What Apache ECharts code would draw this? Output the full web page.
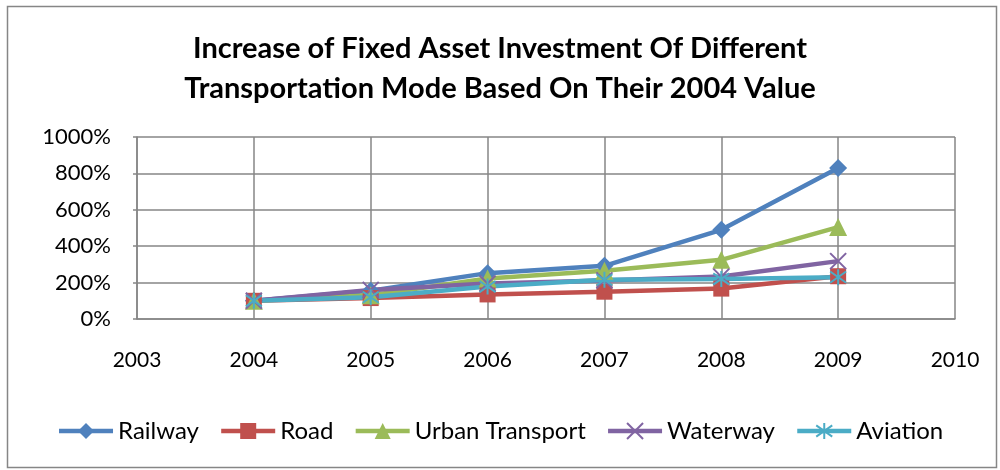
<!DOCTYPE html>
<html>
<head>
<meta charset="utf-8">
<script src="https://cdn.jsdelivr.net/npm/echarts@6/dist/echarts.min.js"></script>
<style>html,body{margin:0;padding:0;background:#fff;}#c{width:1000px;height:470px;}</style>
</head>
<body>
<div id="c"></div>
<script>
const years = [2004, 2005, 2006, 2007, 2008, 2009];
const railway = [100, 155, 252, 292, 490, 830];
const road = [100, 115, 135, 150, 167, 235];
const urbanTransport = [100, 130, 222, 265, 325, 505];
const waterway = [100, 160, 195, 212, 233, 318];
const aviation = [100, 120, 178, 215, 220, 230];
const seriesNames = ['Railway', 'Road', 'Urban Transport', 'Waterway', 'Aviation'];
const titleText = 'Increase of Fixed Asset Investment Of Different\nTransportation Mode Based On Their 2004 Value';

const colors = ['#4F81BD', '#C0504D', '#9BBB59', '#8064A2', '#4BACC6'];
const symbols = ['diamond', 'rect', 'triangle',
  'path://M0,0L10,10M10,0L0,10',
  'path://M5,0L5,10M1.5,1.5L8.5,8.5M8.5,1.5L1.5,8.5'];
const sizes = [18, 16, 18, 16, 16];
const allData = [railway, road, urbanTransport, waterway, aviation];
const FONT = 'Lato';

const series = allData.map((vals, i) => ({
  name: seriesNames[i],
  type: 'line',
  data: years.map((y, k) => [y, vals[k]]),
  symbol: symbols[i],
  symbolSize: sizes[i],
  lineStyle: { color: colors[i], width: 4.5 },
  itemStyle: i >= 3
    ? { color: colors[i], borderColor: colors[i], borderWidth: 2 }
    : { color: colors[i] },
  emphasis: { disabled: true },
  animation: false
}));

const chart = echarts.init(document.getElementById('c'), null, { renderer: 'canvas' });
chart.setOption({
  backgroundColor: '#fff',
  color: colors,
  title: {
    text: titleText,
    left: 'center',
    top: 24,
    textStyle: { fontFamily: FONT, fontWeight: 'bold', fontSize: 29, color: '#000', lineHeight: 40 }
  },
  graphic: [{
    type: 'rect', left: 5, top: 4, shape: { width: 989, height: 461 },
    style: { fill: 'none', stroke: '#868686', lineWidth: 1.5 }, silent: true
  }],
  legend: {
    bottom: 22,
    left: 'center',
    itemWidth: 54,
    itemHeight: 20,
    itemGap: 20,
    lineStyle: { width: 4.5 },
    textStyle: { fontFamily: FONT, fontSize: 24, color: '#000' },
    data: seriesNames
  },
  grid: { left: 137, right: 45, top: 137, bottom: 151, containLabel: false },
  xAxis: {
    type: 'value', min: 2003, max: 2010, interval: 1,
    axisLine: { show: true, lineStyle: { color: '#868686', width: 1.5 } },
    axisTick: { show: false },
    axisLabel: { margin: 31, fontFamily: FONT, fontSize: 21, color: '#000', formatter: v => String(v) },
    splitLine: { show: true, lineStyle: { color: '#868686', width: 1.5 } }
  },
  yAxis: {
    type: 'value', min: 0, max: 1000, interval: 200,
    axisLine: { show: true, lineStyle: { color: '#868686', width: 1.5 } },
    axisTick: { show: true, length: 4, lineStyle: { color: '#868686', width: 1.5 } },
    axisLabel: { margin: 26, fontFamily: FONT, fontSize: 22, color: '#000', formatter: v => v + '%' },
    splitLine: { show: true, lineStyle: { color: '#868686', width: 1.5 } }
  },
  series: series
});
</script>
</body>
</html>
